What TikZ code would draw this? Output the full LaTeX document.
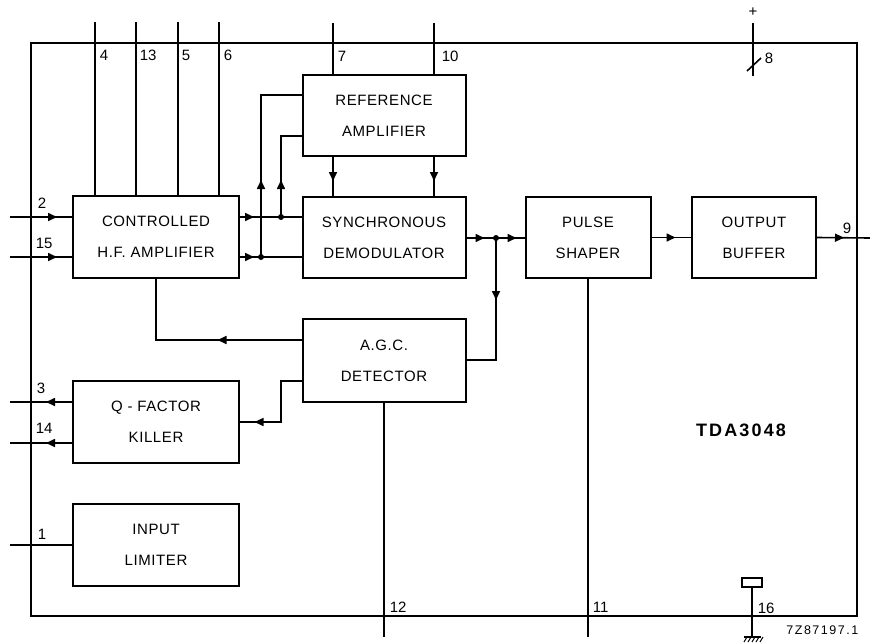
\documentclass[tikz,border=0pt]{standalone}
\usepackage{fontspec}
\setmainfont{Liberation Sans}
\newfontfamily\boxfont[LetterSpace=4]{Liberation Sans}
\newfontfamily\codefont[LetterSpace=12]{Liberation Sans}
\usetikzlibrary{arrows.meta,decorations.markings}
\tikzset{>={Triangle[length=9pt,width=8pt]}}
\begin{document}
\begin{tikzpicture}[x=1pt,y=-1pt,line width=1.6pt,
  blk/.style={draw,line width=2pt,rectangle,inner sep=0pt,align=center,
    font=\boxfont\fontsize{15}{31}\selectfont},
  pinlbl/.style={inner sep=0pt,anchor=west,font=\fontsize{15}{17}\selectfont},
  ar/.style={postaction={decorate,decoration={markings,mark=at position #1 with {\arrow{>}}}}},
  dot/.style={circle,fill,inner sep=0pt,minimum size=6pt}]
\useasboundingbox (0,0) rectangle (870,643);
% IC outline
\node[draw,line width=2pt,inner sep=0pt,minimum width=826pt,minimum height=573pt] (ic) at (444,329.5) {};
% blocks
\node[blk,minimum width=166pt,minimum height=82pt] (hf) at (156,237) {CONTROLLED\\H.F. AMPLIFIER};
\node[blk,minimum width=163pt,minimum height=81pt] (ref) at (384,115.5) {REFERENCE\\AMPLIFIER};
\node[blk,minimum width=163pt,minimum height=81pt] (sync) at (384,237.5) {SYNCHRONOUS\\DEMODULATOR};
\node[blk,minimum width=125pt,minimum height=81pt] (pulse) at (588,237.5) {PULSE\\SHAPER};
\node[blk,minimum width=124pt,minimum height=81pt] (outb) at (754,237.5) {OUTPUT\\BUFFER};
\node[blk,minimum width=163pt,minimum height=83pt] (agc) at (384,360.5) {A.G.C.\\DETECTOR};
\node[blk,minimum width=166pt,minimum height=82pt] (qf) at (156,422) {Q - FACTOR\\KILLER};
\node[blk,minimum width=166pt,minimum height=82pt] (lim) at (156,545) {INPUT\\LIMITER};
% coordinates
\coordinate (t4) at (95,22); \coordinate (t13) at (136,22);
\coordinate (t5) at (178,22); \coordinate (t6) at (219,22);
\coordinate (t7) at (333,23); \coordinate (t10) at (434,23);
\coordinate (t8) at (753,23); \coordinate (t8b) at (753,76);
\coordinate (in2) at (10,217); \coordinate (in15) at (10,257);
\coordinate (o3) at (10,402); \coordinate (o14) at (10,443);
\coordinate (in1) at (10,545);
\coordinate (o9) at (870,238);
\coordinate (b12) at (384,637); \coordinate (b11) at (588,637);
\coordinate (g16) at (752,637);
\coordinate (j1) at (281,217); \coordinate (j2) at (261,257); \coordinate (j3) at (496,238);
\coordinate (c1) at (281,136); \coordinate (c2) at (261,95);
\coordinate (c3) at (496,360);
\coordinate (a1) at (156,340);
\coordinate (a2) at (281,381); \coordinate (a3) at (281,422);
% top pins
\foreach \p in {t4,t13,t5,t6} \draw (\p) -- (hf.north -| \p);
\draw (t7) -- (ref.north -| t7);
\draw (t10) -- (ref.north -| t10);
\draw (t8) -- (t8b);
\draw (747,71) -- (761,58);
\node[inner sep=0pt,font=\fontsize{15}{17}\selectfont] (plus) at (753,12) {+};
% inputs
\draw[ar=47pt] (in2) -- (in2 -| hf.west);
\draw[ar=47pt] (in15) -- (in15 -| hf.west);
\draw (in1) -- (in1 -| lim.west);
% hf outputs
\draw[ar=14pt] (j1 -| hf.east) -- (j1 -| sync.west);
\draw[ar=14pt] (j2 -| hf.east) -- (j2 -| sync.west);
\draw[ar=37pt] (j1) -- (c1) -- (c1 -| ref.west);
\draw[ar=77pt] (j2) -- (c2) -- (c2 -| ref.west);
\node[dot] (d1) at (j1) {};
\node[dot] (d2) at (j2) {};
% ref -> sync
\draw[ar=24pt] (ref.south -| t7) -- (sync.north -| t7);
\draw[ar=24pt] (ref.south -| t10) -- (sync.north -| t10);
% sync -> pulse
\draw[ar=18pt,ar=50pt] (sync.east |- j3) -- (pulse.west |- j3);
\node[dot] (d3) at (j3) {};
\draw[ar=62pt] (j3) -- (c3) -- (c3 -| agc.east);
% agc outputs
\draw[ar=84pt] (a1 -| agc.west) -- (a1) -- (hf.south);
\draw[ar=88pt] (a2 -| agc.west) -- (a2) -- (a3) -- (a3 -| qf.east);
% q factor outputs
\draw[ar=26pt] (o3 -| qf.west) -- (o3);
\draw[ar=26pt] (o14 -| qf.west) -- (o14);
% pulse -> buffer -> out
\draw[ar=24pt] (pulse.east) -- (outb.west);
\draw[ar=27pt] (outb.east) -- (o9);
% bottom pins
\draw (agc.south) -- (b12);
\draw (pulse.south) -- (b11);
\node[draw,line width=1.4pt,inner sep=0pt,minimum width=20pt,minimum height=9pt] (r16) at (752,582.5) {};
\draw (r16.south) -- (g16);
\draw[line width=1.8pt] (744,637) -- (761,637);
\foreach \x in {747,751,755,759,763} \draw[line width=1pt] (\x,637) -- (\x-3,642);
% labels
\node[pinlbl] (l4) at (99,55) {4};
\node[pinlbl] (l13) at (139,55) {13};
\node[pinlbl] (l5) at (181,55) {5};
\node[pinlbl] (l6) at (223,55) {6};
\node[pinlbl] (l7) at (337,56) {7};
\node[pinlbl] (l10) at (441,56) {10};
\node[pinlbl] (l8) at (764,58) {8};
\node[pinlbl] (l9) at (842,228) {9};
\node[pinlbl] (l2) at (37,203) {2};
\node[pinlbl] (l15) at (35,243) {15};
\node[pinlbl] (l3) at (36,388) {3};
\node[pinlbl] (l14) at (35,428) {14};
\node[pinlbl] (l1) at (37,534) {1};
\node[pinlbl] (l12) at (389,607) {12};
\node[pinlbl] (l11) at (592,607) {11};
\node[pinlbl] (l16) at (757,608) {16};
\node[inner sep=0pt,font=\codefont\bfseries\fontsize{18}{20}\selectfont] (tda) at (741,430) {TDA3048};
\node[inner sep=0pt,anchor=east,font=\codefont\fontsize{12.5}{14}\selectfont] (code) at (859,630) {7Z87197.1};
\end{tikzpicture}
\end{document}
